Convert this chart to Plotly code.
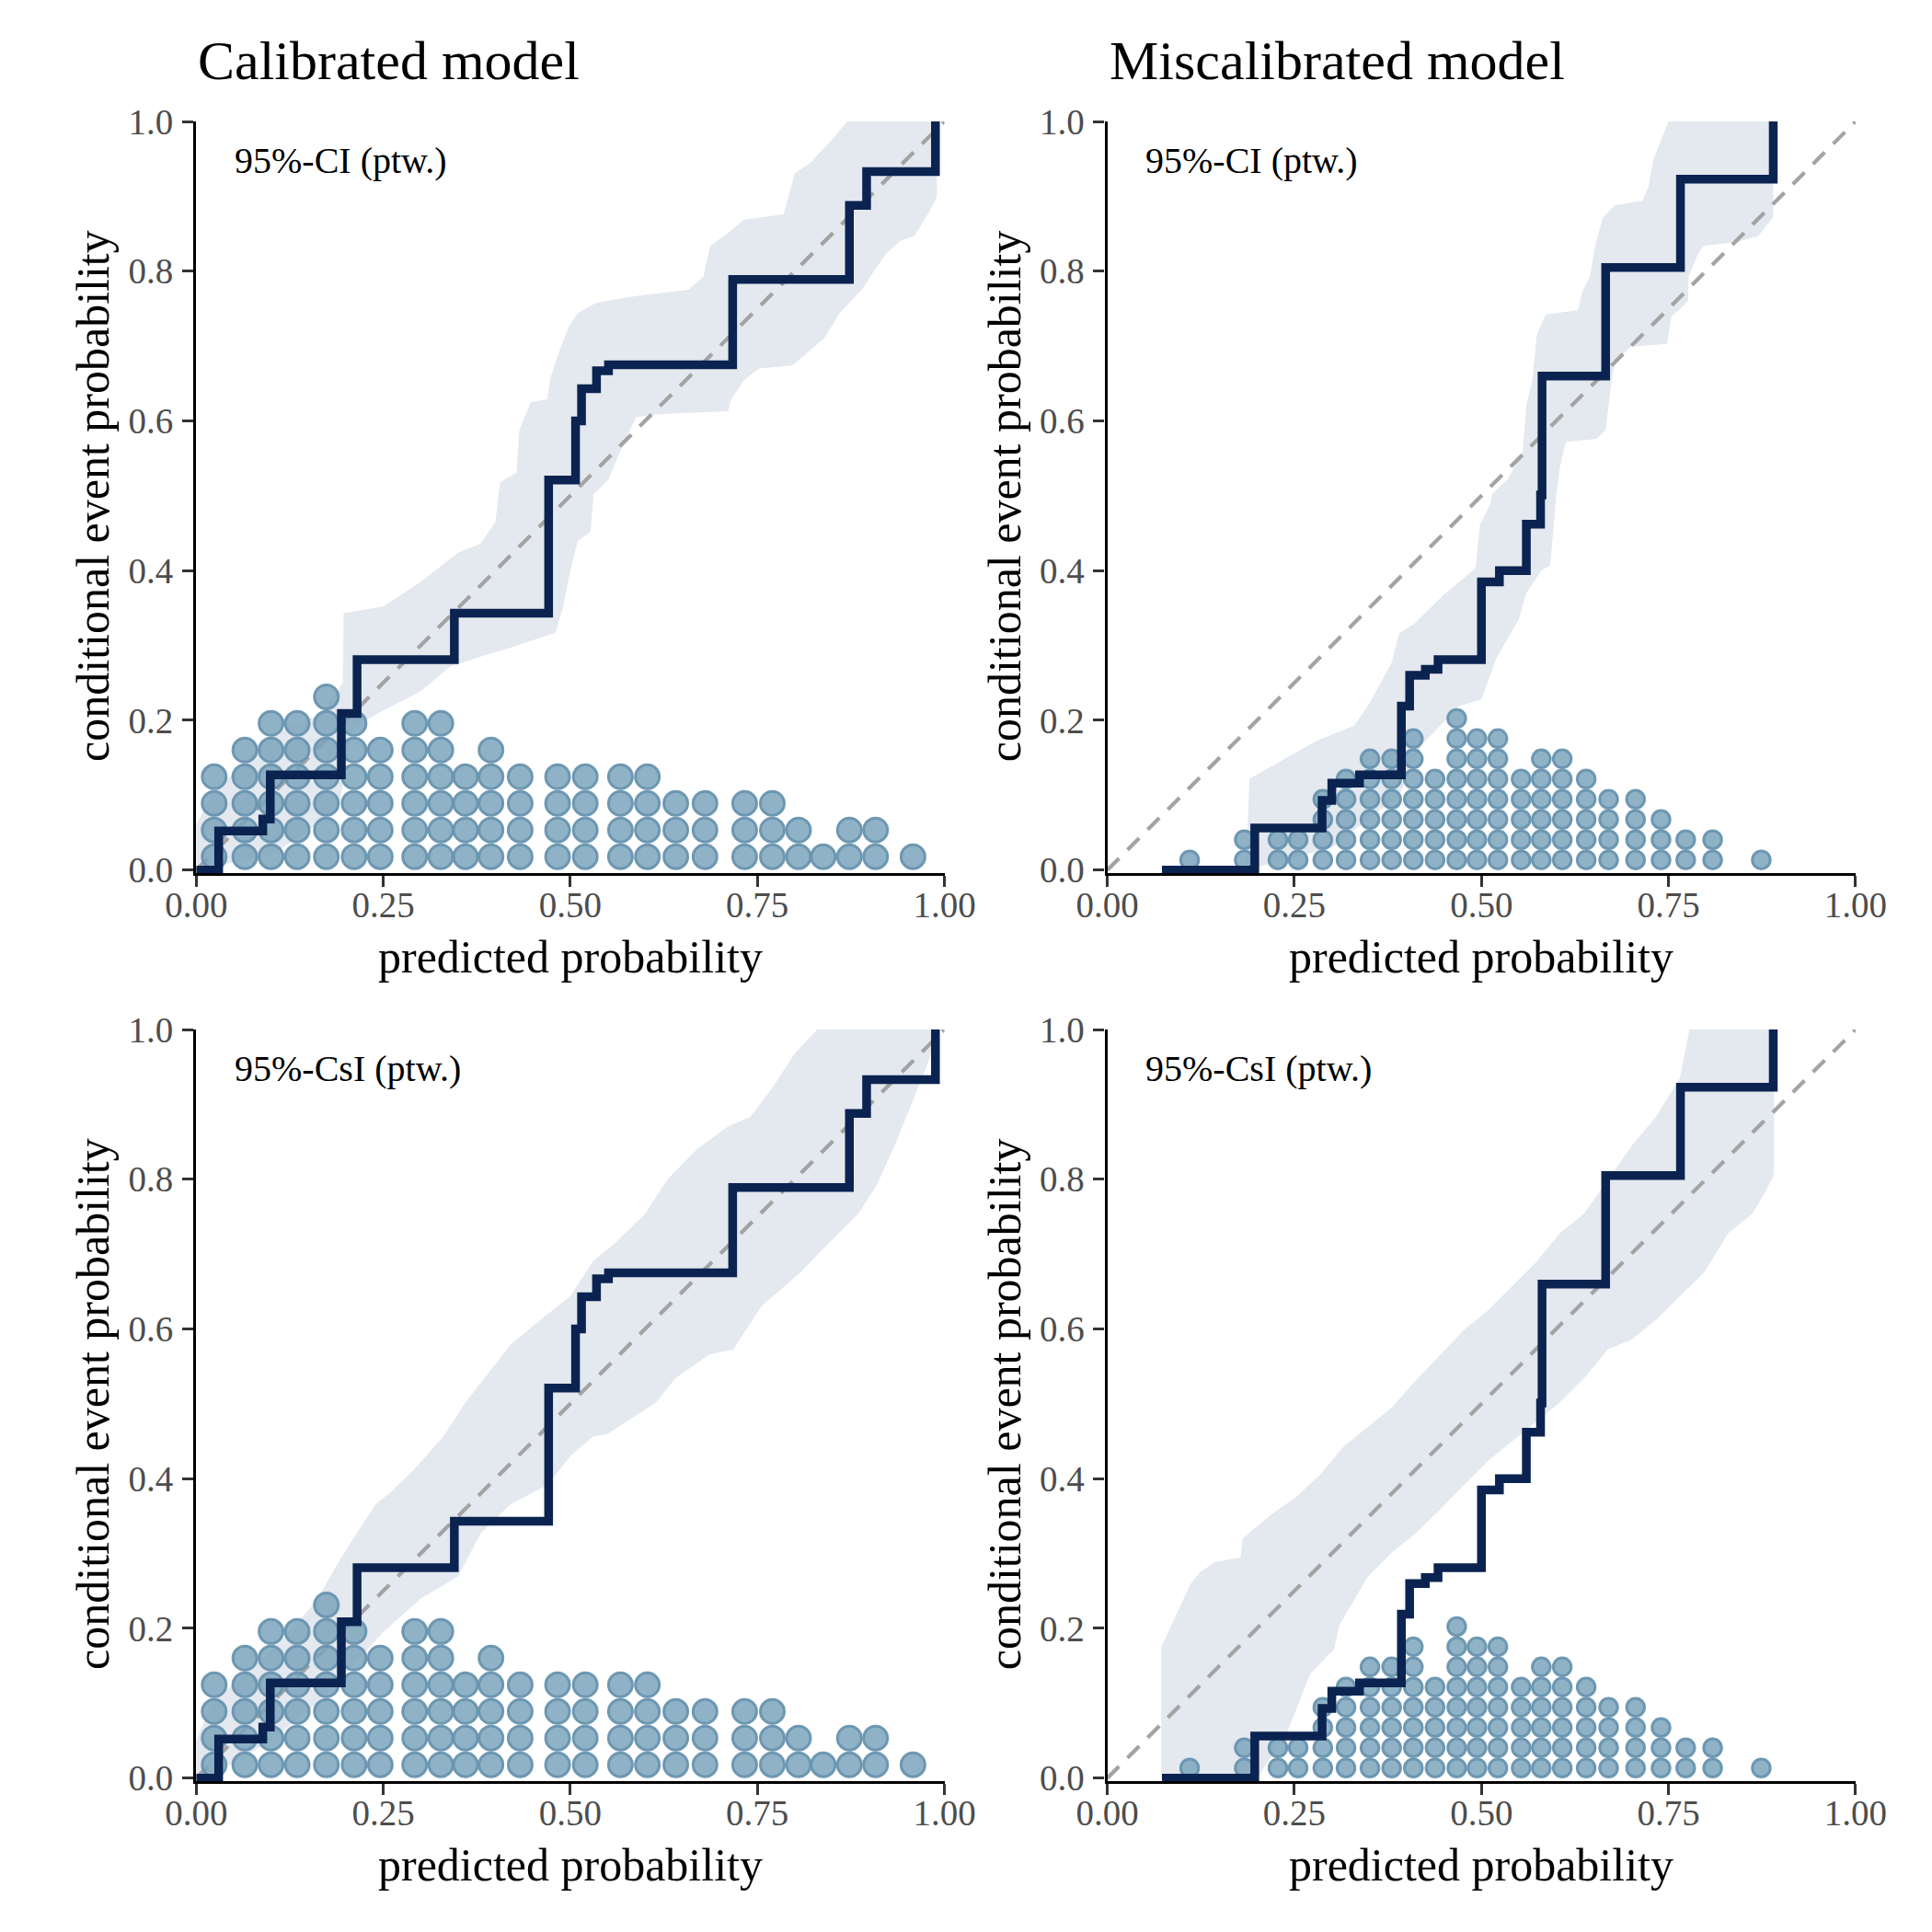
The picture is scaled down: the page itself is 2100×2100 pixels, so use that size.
import plotly.graph_objects as go

FONT = "Liberation Serif"

# dot stacks of predicted probabilities: column centre and number of dots
cal_dot_x = [0.024, 0.065, 0.100, 0.135, 0.174, 0.211, 0.246, 0.292, 0.327, 0.360, 0.394,
             0.433, 0.483, 0.520, 0.567, 0.603, 0.641, 0.680, 0.733, 0.770, 0.805, 0.838,
             0.873, 0.908, 0.958]
cal_dot_n = [4, 5, 6, 6, 7, 6, 5, 6, 6, 4, 5, 4, 4, 4, 4, 4, 3, 3, 3, 3, 2, 1, 2, 2, 1]

mis_dot_x = [0.110, 0.183, 0.228, 0.255, 0.288, 0.319, 0.351, 0.380, 0.409, 0.438, 0.467,
             0.494, 0.522, 0.553, 0.580, 0.608, 0.640, 0.670, 0.706, 0.740, 0.773, 0.809, 0.874]
mis_dot_n = [1, 2, 2, 2, 4, 5, 6, 6, 7, 5, 8, 7, 7, 5, 6, 6, 5, 4, 4, 3, 2, 2, 1]

# isotonic (CORP) calibration curves: jump positions and level after each jump
cal_step_x = [0.0, 0.030, 0.089, 0.099, 0.194, 0.215, 0.345, 0.471, 0.507, 0.515, 0.535,
              0.551, 0.717, 0.873, 0.896, 0.988, 0.988]
cal_step_y = [0.0, 0.052, 0.068, 0.127, 0.209, 0.281, 0.343, 0.521, 0.600, 0.643, 0.667,
              0.675, 0.789, 0.888, 0.933, 0.933, 1.0]

mis_step_x = [0.073, 0.197, 0.287, 0.300, 0.337, 0.393, 0.404, 0.425, 0.442, 0.500, 0.524,
              0.560, 0.579, 0.581, 0.666, 0.766, 0.890, 0.890]
mis_step_y = [0.0, 0.056, 0.093, 0.116, 0.127, 0.219, 0.260, 0.268, 0.281, 0.385, 0.400,
              0.462, 0.501, 0.660, 0.805, 0.923, 0.923, 1.0]

# pointwise 95% bands (upper and lower edges)
cal_ci_hi_x = [0.0, 0.02, 0.06, 0.10, 0.17, 0.196, 0.197, 0.25, 0.30, 0.35, 0.38, 0.40, 0.406,
               0.428, 0.432, 0.447, 0.469, 0.474, 0.486, 0.498, 0.51, 0.535, 0.59, 0.658, 0.678,
               0.687, 0.711, 0.732, 0.785, 0.80, 0.82, 0.85, 0.87, 0.99]
cal_ci_hi = [0.06, 0.10, 0.14, 0.18, 0.21, 0.25, 0.343, 0.352, 0.385, 0.424, 0.436, 0.465, 0.518,
             0.531, 0.588, 0.625, 0.629, 0.66, 0.695, 0.726, 0.744, 0.758, 0.767, 0.775, 0.793,
             0.834, 0.851, 0.869, 0.876, 0.931, 0.944, 0.976, 1.0, 1.0]
cal_ci_lo_x = [0.0, 0.10, 0.19, 0.21, 0.25, 0.30, 0.34, 0.38, 0.42, 0.48, 0.49, 0.50, 0.51,
               0.527, 0.531, 0.551, 0.572, 0.588, 0.617, 0.711, 0.715, 0.732, 0.752, 0.797,
               0.81, 0.84, 0.86, 0.89, 0.92, 0.94, 0.96, 0.98, 0.99]
cal_ci_lo = [0.0, 0.02, 0.08, 0.19, 0.213, 0.239, 0.272, 0.285, 0.297, 0.317, 0.35, 0.40, 0.44,
             0.452, 0.502, 0.522, 0.572, 0.605, 0.609, 0.613, 0.629, 0.654, 0.67, 0.674, 0.685,
             0.711, 0.744, 0.776, 0.821, 0.84, 0.847, 0.88, 0.90]

mis_ci_hi_x = [0.185, 0.19, 0.28, 0.33, 0.35, 0.38, 0.39, 0.41, 0.45, 0.492, 0.498, 0.512,
               0.514, 0.535, 0.555, 0.56, 0.568, 0.574, 0.586, 0.629, 0.635, 0.645, 0.652, 0.662,
               0.678, 0.715, 0.723, 0.73, 0.75, 0.89]
mis_ci_hi = [0.0, 0.122, 0.173, 0.193, 0.222, 0.277, 0.316, 0.329, 0.368, 0.403, 0.461, 0.489,
             0.502, 0.522, 0.559, 0.621, 0.654, 0.715, 0.742, 0.748, 0.773, 0.793, 0.834, 0.871,
             0.888, 0.894, 0.912, 0.95, 1.0, 1.0]
mis_ci_lo_x = [0.185, 0.30, 0.39, 0.42, 0.47, 0.50, 0.52, 0.55, 0.56, 0.58, 0.592, 0.60, 0.605,
               0.613, 0.654, 0.666, 0.674, 0.678, 0.699, 0.748, 0.754, 0.764, 0.776, 0.777,
               0.789, 0.797, 0.842, 0.87, 0.89]
mis_ci_lo = [0.0, 0.03, 0.10, 0.167, 0.219, 0.228, 0.283, 0.335, 0.37, 0.40, 0.407, 0.502, 0.539,
             0.572, 0.576, 0.588, 0.654, 0.678, 0.699, 0.703, 0.74, 0.748, 0.76, 0.793, 0.822,
             0.834, 0.839, 0.847, 0.872]

cal_csi_hi_x = [0.0, 0.02, 0.08, 0.12, 0.16, 0.19, 0.21, 0.24, 0.26, 0.29, 0.33, 0.36, 0.39,
                0.42, 0.46, 0.50, 0.53, 0.56, 0.60, 0.63, 0.67, 0.71, 0.74, 0.77, 0.80, 0.83, 0.99]
cal_csi_hi = [0.05, 0.10, 0.152, 0.19, 0.236, 0.288, 0.32, 0.366, 0.382, 0.411, 0.456, 0.502,
              0.54, 0.579, 0.612, 0.644, 0.69, 0.715, 0.754, 0.80, 0.841, 0.87, 0.883, 0.922,
              0.968, 1.0, 1.0]
cal_csi_lo_x = [0.0, 0.05, 0.10, 0.15, 0.20, 0.25, 0.30, 0.35, 0.38, 0.42, 0.47, 0.50, 0.53,
                0.55, 0.615, 0.64, 0.686, 0.718, 0.756, 0.808, 0.833, 0.885, 0.91, 0.936, 0.962,
                0.975, 0.99]
cal_csi_lo = [0.0, 0.02, 0.05, 0.09, 0.14, 0.195, 0.24, 0.269, 0.327, 0.366, 0.392, 0.43, 0.456,
              0.46, 0.502, 0.534, 0.566, 0.573, 0.631, 0.676, 0.702, 0.754, 0.793, 0.851, 0.916,
              0.948, 0.99]

mis_csi_hi_x = [0.072, 0.072, 0.111, 0.124, 0.143, 0.178, 0.181, 0.22, 0.252, 0.284, 0.316,
                0.348, 0.38, 0.412, 0.445, 0.477, 0.509, 0.541, 0.573, 0.605, 0.637, 0.669,
                0.701, 0.733, 0.765, 0.778, 0.891]
mis_csi_hi = [0.0, 0.175, 0.259, 0.275, 0.288, 0.295, 0.32, 0.353, 0.375, 0.405, 0.443, 0.469,
              0.495, 0.531, 0.566, 0.599, 0.625, 0.657, 0.689, 0.728, 0.754, 0.799, 0.845,
              0.883, 0.935, 1.0, 1.0]
mis_csi_lo_x = [0.072, 0.20, 0.24, 0.271, 0.303, 0.31, 0.348, 0.38, 0.412, 0.445, 0.477, 0.509,
                0.541, 0.573, 0.605, 0.637, 0.669, 0.701, 0.733, 0.765, 0.798, 0.83, 0.862,
                0.881, 0.891]
mis_csi_lo = [0.0, 0.0, 0.06, 0.139, 0.172, 0.204, 0.269, 0.301, 0.327, 0.359, 0.392, 0.424,
              0.45, 0.476, 0.502, 0.534, 0.573, 0.586, 0.612, 0.644, 0.676, 0.728, 0.754,
              0.786, 0.806]

titles = ["Calibrated model", "Miscalibrated model"]
band_labels = ["95%-CI (ptw.)", "95%-CI (ptw.)", "95%-CsI (ptw.)", "95%-CsI (ptw.)"]

x_ticks = [0, 0.25, 0.5, 0.75, 1.0]
y_ticks = [0, 0.2, 0.4, 0.6, 0.8, 1.0]

NAVY = "#0B2350"
BAND = "#E4E8EF"

# panel layout in pixels of the 2100x2100 canvas
W = 2100
left_x = [177.0, 1200.5]
panel_w = 840.5
top_y = [105.0, 1110.7]      # pixel of y = 1
panel_h = 829.0              # pixels per unit of y
y_lo = -0.004

panels = [
    # (col, row, dots x, dots n, dot step, dot size, step x, step y, hi x, hi, lo x, lo)
    (0, 0, cal_dot_x, cal_dot_n, 0.0356, 26, cal_step_x, cal_step_y,
     cal_ci_hi_x, cal_ci_hi, cal_ci_lo_x, cal_ci_lo),
    (1, 0, mis_dot_x, mis_dot_n, 0.0270, 19.5, mis_step_x, mis_step_y,
     mis_ci_hi_x, mis_ci_hi, mis_ci_lo_x, mis_ci_lo),
    (0, 1, cal_dot_x, cal_dot_n, 0.0356, 26, cal_step_x, cal_step_y,
     cal_csi_hi_x, cal_csi_hi, cal_csi_lo_x, cal_csi_lo),
    (1, 1, mis_dot_x, mis_dot_n, 0.0270, 19.5, mis_step_x, mis_step_y,
     mis_csi_hi_x, mis_csi_hi, mis_csi_lo_x, mis_csi_lo),
]

fig = go.Figure()
layout = {}
annotations = []

for i, (col, row, dx, dn, dstep, dsize, sx, sy, hx, hy, lx, ly) in enumerate(panels):
    n = "" if i == 0 else str(i + 1)
    xa, ya = "x" + n, "y" + n

    # band polygon
    fig.add_trace(go.Scatter(
        x=hx + lx[::-1], y=hy + ly[::-1], fill="toself", fillcolor=BAND,
        line=dict(width=0), mode="lines", hoverinfo="skip", xaxis=xa, yaxis=ya))
    # diagonal reference
    fig.add_trace(go.Scatter(
        x=[0, 1], y=[0, 1], mode="lines",
        line=dict(color="#A3A3A3", width=4.2, dash="18px,13px"), xaxis=xa, yaxis=ya))
    # dot plot
    px, py = [], []
    for x, c in zip(dx, dn):
        for k in range(c):
            px.append(x)
            py.append((k + 0.5) * dstep)
    fig.add_trace(go.Scatter(
        x=px, y=py, mode="markers", cliponaxis=False,
        marker=dict(size=dsize, color="rgba(124,164,188,0.85)",
                    line=dict(color="rgba(104,147,175,0.95)", width=3)),
        xaxis=xa, yaxis=ya))
    # calibration curve
    fig.add_trace(go.Scatter(
        x=sx, y=sy, mode="lines", line=dict(color=NAVY, width=9.5, shape="hv"),
        xaxis=xa, yaxis=ya))

    x0 = left_x[col]
    ytop = top_y[row]
    ybot = ytop + panel_h * (1 - y_lo)
    axis_common = dict(
        showline=True, linecolor="black", linewidth=3.3, showgrid=False, zeroline=False,
        ticks="outside", ticklen=12, tickwidth=3, tickcolor="#333333",
        tickfont=dict(family=FONT, size=39, color="#4D4D4D"))
    layout["xaxis" + n] = dict(
        axis_common, domain=[x0 / W, (x0 + panel_w) / W], range=[0, 1],
        tickvals=x_ticks, tickformat=".2f", anchor=ya, ticklabelstandoff=-14)
    layout["yaxis" + n] = dict(
        axis_common, domain=[1 - ybot / W, 1 - ytop / W], range=[y_lo, 1],
        tickvals=y_ticks, tickformat=".1f", anchor=xa, ticklabelstandoff=2)

    # in-panel label
    annotations.append(dict(
        x=0.049, y=0.948, xref=xa, yref=ya, text=band_labels[i], showarrow=False,
        xanchor="left", yanchor="middle", font=dict(family=FONT, size=40, color="black")))
    # axis titles
    annotations.append(dict(
        x=(x0 + panel_w / 2) / W, y=1 - (ybot + 93) / W, xref="paper", yref="paper",
        text="predicted probability", showarrow=False, xanchor="center", yanchor="middle",
        font=dict(family=FONT, size=50, color="black")))
    annotations.append(dict(
        x=(x0 - 116) / W, y=1 - (ytop + panel_h / 2) / W, xref="paper", yref="paper",
        text="conditional event probability", showarrow=False, textangle=-90,
        xanchor="center", yanchor="middle", font=dict(family=FONT, size=50, color="black")))

for col, t in enumerate(titles):
    annotations.append(dict(
        x=left_x[col] / W, y=1 - 38 / W, xref="paper", yref="paper", text=t,
        showarrow=False, xanchor="left", yanchor="middle",
        font=dict(family=FONT, size=60, color="black")))

fig.update_layout(
    width=2100, height=2100, margin=dict(l=0, r=0, t=0, b=0),
    plot_bgcolor="white", paper_bgcolor="white", showlegend=False,
    annotations=annotations, **layout)

fig.write_html("out.html")
